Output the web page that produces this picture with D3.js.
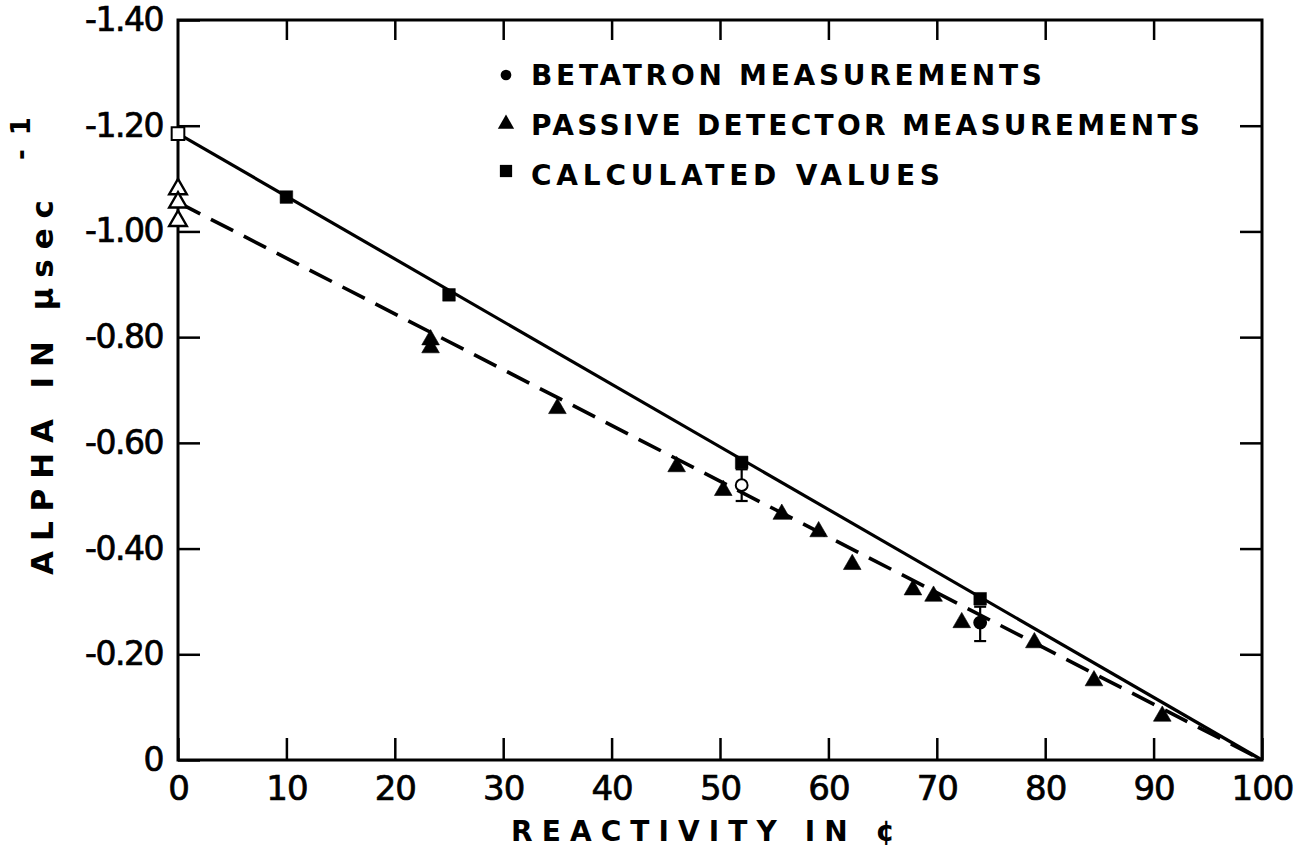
<!DOCTYPE html>
<html><head><meta charset="utf-8">
<script src="https://cdn.jsdelivr.net/npm/d3@7"></script>
<style>
body{margin:0;background:#fff}
svg{display:block}
text{font-family:"DejaVu Sans",sans-serif;fill:#000}
</style>
</head><body>
<svg id="c" width="1295" height="850"></svg>
<script>
// ---------- data ----------
const xTickValues = [0,10,20,30,40,50,60,70,80,90,100];
const xTickLabels = ["0","10","20","30","40","50","60","70","80","90","100"];
const yTickValues = [0,-0.2,-0.4,-0.6,-0.8,-1.0,-1.2,-1.4];
const yTickLabels = ["0","-0.20","-0.40","-0.60","-0.80","-1.00","-1.20","-1.40"];

// calculated values (squares) – first one open
const calcX    = [0, 10, 25, 52, 74];
const calcY    = [-1.185, -1.065, -0.88, -0.563, -0.305];
const calcOpen = [true, false, false, false, false];

// betatron measurements (circles with error bars)
const betaX    = [52, 74];
const betaY    = [-0.52, -0.26];
const betaLo   = [-0.49, -0.225];
const betaHi   = [-0.55, -0.29];
const betaOpen = [true, false];

// passive detector measurements (triangles)
const passX    = [0, 0, 0, 23.3, 23.3, 35, 46, 50.3, 55.7, 59.1, 62.2, 67.8, 69.7, 72.3, 79, 84.5, 90.8];
const passY    = [-1.08, -1.055, -1.02, -0.795, -0.78, -0.665, -0.555, -0.51, -0.465, -0.432, -0.37, -0.322, -0.31, -0.26, -0.222, -0.15, -0.083];
const passOpen = [true, true, true, false, false, false, false, false, false, false, false, false, false, false, false, false, false];

// fitted lines
const solidX  = [0, 100];
const solidY  = [-1.185, 0];
const dashedX = [0, 100];
const dashedY = [-1.055, 0];

const legendLabels = ["BETATRON MEASUREMENTS", "PASSIVE DETECTOR MEASUREMENTS", "CALCULATED VALUES"];
const legendShapes = ["circle", "triangle", "square"];
const xTitle = "REACTIVITY IN ¢";
const yTitleMain = "ALPHA IN μsec";
const yTitleSup = "-1";

// ---------- layout ----------
const L = 178, R = 1262, T = 20, B = 760;
const svg = d3.select("#c");
const x = d3.scaleLinear().domain([0,100]).range([L,R]);
const y = d3.scaleLinear().domain([0,-1.4]).range([B,T]);

// frame
svg.append("rect").attr("x",L).attr("y",T).attr("width",R-L).attr("height",B-T)
  .attr("fill","none").attr("stroke","#000").attr("stroke-width",3);

function styleAxis(g){
  g.select(".domain").remove();
  g.selectAll(".tick line").attr("stroke","#000").attr("stroke-width",2.5);
}
function styleLabels(g, size, ls){
  g.selectAll("text").attr("font-size",size).attr("letter-spacing",ls)
    .attr("font-family","DejaVu Sans").attr("fill","#000")
    .attr("stroke","#000").attr("stroke-width",0.7);
}
// bottom axis
svg.append("g").attr("transform",`translate(0,${B})`)
  .call(d3.axisBottom(x).tickValues(xTickValues).tickFormat((d,i)=>xTickLabels[i])
    .tickSizeInner(-22).tickSizeOuter(0).tickPadding(16))
  .call(styleAxis)
  .call(g=>styleLabels(g,34,-1));
// top axis
svg.append("g").attr("transform",`translate(0,${T})`)
  .call(d3.axisTop(x).tickValues(xTickValues.slice(1,-1)).tickFormat("")
    .tickSizeInner(-20).tickSizeOuter(0))
  .call(styleAxis);
// left axis
svg.append("g").attr("transform",`translate(${L},0)`)
  .call(d3.axisLeft(y).tickValues(yTickValues).tickFormat((d,i)=>yTickLabels[i])
    .tickSizeInner(-22).tickSizeOuter(0).tickPadding(15))
  .call(styleAxis)
  .call(g=>styleLabels(g,33,-1.5));
// right axis
svg.append("g").attr("transform",`translate(${R},0)`)
  .call(d3.axisRight(y).tickValues(yTickValues.slice(1,-1)).tickFormat("")
    .tickSizeInner(-22).tickSizeOuter(0))
  .call(styleAxis);

// lines
const line = d3.line().x(d=>x(d[0])).y(d=>y(d[1]));
svg.append("path").datum(solidX.map((v,i)=>[v,solidY[i]])).attr("d",line)
  .attr("fill","none").attr("stroke","#000").attr("stroke-width",3.2);
svg.append("path").datum(dashedX.map((v,i)=>[v,dashedY[i]])).attr("d",line)
  .attr("fill","none").attr("stroke","#000").attr("stroke-width",3.6)
  .attr("stroke-dasharray","25,12");

// symbols
const triSym = d3.symbol().type(d3.symbolTriangle).size(135);
const sqSym  = d3.symbol().type(d3.symbolSquare).size(160);
const cirSym = d3.symbol().type(d3.symbolCircle).size(110);

// passive triangles
svg.append("g").selectAll("path").data(passX.map((v,i)=>({x:v,y:passY[i],open:passOpen[i]})))
  .join("path").attr("d",triSym())
  .attr("transform",d=>`translate(${x(d.x)},${y(d.y)})`)
  .attr("fill",d=>d.open?"#fff":"#000").attr("stroke","#000").attr("stroke-width",d=>d.open?2.4:0.6);

// calculated squares
svg.append("g").selectAll("path").data(calcX.map((v,i)=>({x:v,y:calcY[i],open:calcOpen[i]})))
  .join("path").attr("d",sqSym())
  .attr("transform",d=>`translate(${x(d.x)},${y(d.y)})`)
  .attr("fill",d=>d.open?"#fff":"#000").attr("stroke","#000").attr("stroke-width",d=>d.open?2:0.5);

// betatron error bars + circles
const beta = betaX.map((v,i)=>({x:v,y:betaY[i],lo:betaLo[i],hi:betaHi[i],open:betaOpen[i]}));
const eb = svg.append("g").attr("stroke","#000").attr("stroke-width",2.2);
eb.selectAll("line.v").data(beta).join("line").attr("class","v")
  .attr("x1",d=>x(d.x)).attr("x2",d=>x(d.x)).attr("y1",d=>y(d.lo)).attr("y2",d=>y(d.hi));
eb.selectAll("line.lo").data(beta).join("line").attr("class","lo")
  .attr("x1",d=>x(d.x)-6).attr("x2",d=>x(d.x)+6).attr("y1",d=>y(d.lo)).attr("y2",d=>y(d.lo));
eb.selectAll("line.hi").data(beta).join("line").attr("class","hi")
  .attr("x1",d=>x(d.x)-6).attr("x2",d=>x(d.x)+6).attr("y1",d=>y(d.hi)).attr("y2",d=>y(d.hi));
svg.append("g").selectAll("path").data(beta).join("path").attr("d",cirSym())
  .attr("transform",d=>`translate(${x(d.x)},${y(d.y)})`)
  .attr("fill",d=>d.open?"#fff":"#000").attr("stroke","#000").attr("stroke-width",2);

// legend
const legX = 506, legTextX = 531, legBase = [85,135,185], legMarkY = [75,124,171], legWidth = [511,669,409];
const legSym = {circle:d3.symbol().type(d3.symbolCircle).size(90)(),
                triangle:d3.symbol().type(d3.symbolTriangle).size(115)(),
                square:d3.symbol().type(d3.symbolSquare).size(150)()};
const lg = svg.append("g");
legendLabels.forEach((t,i)=>{
  lg.append("path").attr("d",legSym[legendShapes[i]])
    .attr("transform",`translate(${legX},${legMarkY[i]})`).attr("fill","#000");
  lg.append("text").attr("x",legTextX).attr("y",legBase[i])
    .attr("font-size",28).attr("font-weight","bold")
    .attr("textLength",legWidth[i]).attr("lengthAdjust","spacing").text(t);
});

// x title
svg.append("text").attr("x",511).attr("y",841).attr("font-size",28).attr("font-weight","bold")
  .attr("textLength",384).attr("lengthAdjust","spacing").text(xTitle);

// y title
svg.append("text").attr("transform","translate(53,575) rotate(-90)")
  .attr("font-size",31).attr("font-weight","bold")
  .attr("textLength",375).attr("lengthAdjust","spacing").text(yTitleMain);
svg.append("text").attr("transform","translate(30,160) rotate(-90)")
  .attr("font-size",26).attr("font-weight","bold").attr("letter-spacing",14)
  .text(yTitleSup);
</script>
</body></html>
